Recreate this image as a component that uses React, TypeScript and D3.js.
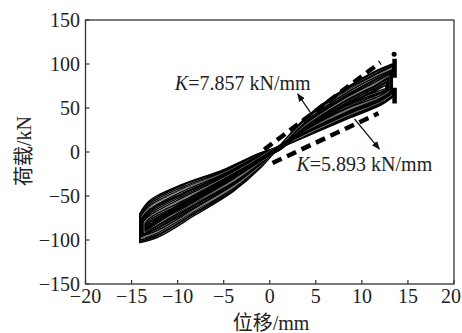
import { useMemo } from 'react';
import * as d3 from 'd3';

// axis ticks
const xTicks = [-20, -15, -10, -5, 0, 5, 10, 15, 20];
const yTicks = [-150, -100, -50, 0, 50, 100, 150];

// hysteresis loops, outer -> inner (16 cycles)
const negPeakX = [-14.1, -14.1, -14.0, -14.0, -13.9, -13.9, -13.8, -13.8, -13.7, -13.7, -13.6, -13.5, -13.5, -13.4, -13.3, -13.2];
const posPeakX = [13.3, 13.3, 13.3, 13.2, 13.2, 13.2, 13.1, 13.1, 13.0, 13.0, 12.9, 12.9, 12.8, 12.8, 12.7, 12.6];

// loading branch stations (between the two peaks)
const riseX = [-12, -8, -4, -1, 1, 4, 8, 11.5];
// load on loading branch, one array per station: at negPeak, riseX..., at posPeak
const riseCols = [
  [-103, -102, -100, -99, -98, -96, -95, -94, -93, -92, -91, -90, -89, -88, -87, -86],
  [-96, -94, -93, -91, -89, -88, -86, -85, -83, -82, -80, -79, -78, -77, -75, -74],
  [-71, -69, -68, -66, -65, -63, -62, -60, -59, -57, -56, -55, -53, -52, -50, -49],
  [-45, -44, -42, -41, -40, -38, -37, -36, -35, -34, -33, -31, -30, -29, -28, -27],
  [-18, -17, -16, -16, -15, -14, -13, -13, -12, -11, -11, -10, -9, -8, -8, -7],
  [6, 6, 5, 5, 5, 4, 4, 4, 4, 3, 3, 3, 3, 2, 2, 2],
  [40, 39, 38, 37, 36, 35, 34, 33, 33, 32, 31, 30, 29, 28, 27, 26],
  [71, 70, 69, 67, 66, 65, 63, 62, 61, 60, 58, 57, 56, 54, 52, 51],
  [92, 91, 89, 88, 86, 85, 83, 82, 80, 79, 78, 76, 75, 73, 71, 70],
  [100, 99, 98, 96, 95, 93, 92, 91, 89, 88, 86, 85, 83, 81, 79, 76],
];

// unloading branch stations
const fallX = [12, 8.5, 4.5, 1.5, -1, -5, -9.5, -13];
// load on unloading branch: drop at posPeak, fallX..., at negPeak
const fallCols = [
  [62, 63, 64, 64, 65, 66, 66, 67, 68, 68, 69, 70, 70, 71, 71, 72],
  [53, 54, 55, 56, 57, 58, 59, 60, 61, 62, 63, 64, 66, 67, 68, 70],
  [38, 39, 40, 41, 42, 43, 44, 45, 46, 47, 48, 50, 51, 53, 54, 56],
  [20, 21, 22, 22, 23, 24, 25, 26, 27, 27, 28, 29, 30, 31, 31, 32],
  [7, 7, 8, 8, 8, 9, 9, 9, 9, 9, 10, 10, 10, 10, 10, 10],
  [-1, -1, -2, -2, -3, -3, -4, -4, -5, -5, -6, -7, -7, -8, -9, -10],
  [-20, -21, -22, -23, -24, -25, -26, -27, -28, -29, -30, -31, -32, -34, -35, -36],
  [-37, -38, -40, -42, -43, -45, -47, -48, -50, -52, -54, -56, -58, -60, -62, -64],
  [-55, -57, -59, -61, -63, -65, -66, -68, -70, -72, -74, -75, -77, -79, -80, -82],
  [-70, -71, -72, -73, -74, -75, -76, -77, -78, -79, -80, -81, -82, -83, -83, -84],
];

// stiffness lines (dashed)
const stiffUpper = [[-0.6, 2.8], [12, 101.8]];
const stiffLower = [[0.3, -12.5], [11.8, 44]];
const peakLine = [[13.55, 106], [13.55, 55]];
const peakDot = [13.5, 111];

// annotations
const labels = [
  { text: '=7.857 kN/mm', x: -10.3, y: 70.5 },
  { text: '=5.893 kN/mm', x: 2.9, y: -21.6 },
];
const arrows = [
  { from: [4.66, 41], to: [3.04, 66] },
  { from: [9.2, 37.5], to: [11.9, 3.4] },
];

const W = 462;
const H = 333;
const FONT = "'Liberation Serif', 'Times New Roman', 'Noto Sans CJK SC', serif";

export default function App() {
  const x = d3.scaleLinear().domain([-20, 20]).range([85.5, 454]);
  const y = d3.scaleLinear().domain([-150, 150]).range([284, 20]);

  const loops = useMemo(() => {
    const branch = d3
      .line<number[]>()
      .x((d) => x(d[0]))
      .y((d) => y(d[1]))
      .curve(d3.curveCatmullRom.alpha(0.5));
    return negPeakX.map((nX, i) => {
      const pX = posPeakX[i];
      const ry = riseCols.map((c) => c[i]);
      const fy = fallCols.map((c) => c[i]);
      const rise: number[][] = [[nX, ry[0]], ...riseX.map((xv, k) => [xv, ry[k + 1]]), [pX, ry[9]]];
      const fall: number[][] = [[pX, fy[0]], ...fallX.map((xv, k) => [xv, fy[k + 1]]), [nX, fy[9]]];
      const a = branch(rise) ?? '';
      const b = branch(fall) ?? '';
      return `${a}L${b.slice(1)}Z`;
    });
  }, []);

  const [x0, x1] = x.range();
  const [yb, yt] = y.range();
  const fmt = (t: number) => (t < 0 ? `\u2212${-t}` : `${t}`);

  return (
    <svg
      width={W}
      height={H}
      style={{ position: 'fixed', left: 0, top: 0, background: '#fff' }}
      fontFamily={FONT}
    >
      <defs>
        <marker id="ah" viewBox="0 0 10 10" refX="9" refY="5" markerWidth="7" markerHeight="7" orient="auto">
          <path d="M0,1 L10,5 L0,9 Z" fill="#111" />
        </marker>
      </defs>

      {/* loops */}
      <g fill="none" strokeWidth={1.5} strokeLinejoin="round">
        {loops.map((d, i) => (
          <path key={i} d={d} stroke={i % 6 === 4 ? '#777' : '#000'} />
        ))}
      </g>

      {/* dashed stiffness lines */}
      <g stroke="#000" strokeWidth={4.5} fill="none">
        <line
          x1={x(stiffUpper[0][0])}
          y1={y(stiffUpper[0][1])}
          x2={x(stiffUpper[1][0])}
          y2={y(stiffUpper[1][1])}
          strokeDasharray="10 6"
        />
        <line
          x1={x(stiffLower[0][0])}
          y1={y(stiffLower[0][1])}
          x2={x(stiffLower[1][0])}
          y2={y(stiffLower[1][1])}
          strokeDasharray="10 6"
        />
        <line
          x1={x(peakLine[0][0])}
          y1={y(peakLine[0][1])}
          x2={x(peakLine[1][0])}
          y2={y(peakLine[1][1])}
          strokeDasharray="19 10 16"
        />
      </g>
      <circle cx={x(peakDot[0])} cy={y(peakDot[1])} r={2.5} fill="#000" />

      {/* arrows */}
      {arrows.map((a, i) => (
        <line
          key={i}
          x1={x(a.from[0])}
          y1={y(a.from[1])}
          x2={x(a.to[0])}
          y2={y(a.to[1])}
          stroke="#111"
          strokeWidth={1.2}
          markerEnd="url(#ah)"
        />
      ))}

      {/* annotation text */}
      {labels.map((l, i) => (
        <text key={i} x={x(l.x)} y={y(l.y)} fontSize={20} fill="#222">
          <tspan fontStyle="italic">K</tspan>
          {l.text}
        </text>
      ))}

      {/* frame */}
      <rect x={x0} y={yt} width={x1 - x0} height={yb - yt} fill="none" stroke="#333" strokeWidth={1.3} />

      {/* x ticks */}
      {xTicks.map((t, i) => (
        <g key={t}>
          <line x1={x(t)} x2={x(t)} y1={yb} y2={yb - 4} stroke="#333" strokeWidth={1.2} />
          <text
            x={i === xTicks.length - 1 ? W - 1 : x(t)}
            y={303}
            textAnchor={i === xTicks.length - 1 ? 'end' : 'middle'}
            fontSize={20}
            fill="#222"
          >
            {fmt(t)}
          </text>
        </g>
      ))}

      {/* y ticks */}
      {yTicks.map((t) => (
        <g key={t}>
          <line x1={x0} x2={x0 + 4} y1={y(t)} y2={y(t)} stroke="#333" strokeWidth={1.2} />
          <text x={80} y={y(t)} dy="0.35em" textAnchor="end" fontSize={20} fill="#222">
            {fmt(t)}
          </text>
        </g>
      ))}

      {/* axis titles */}
      <text x={271} y={330} textAnchor="middle" fontSize={20} fill="#222">
        位移/mm
      </text>
      <text transform="translate(31,151) rotate(-90)" textAnchor="middle" fontSize={20} fill="#222">
        荷载/kN
      </text>
    </svg>
  );
}
